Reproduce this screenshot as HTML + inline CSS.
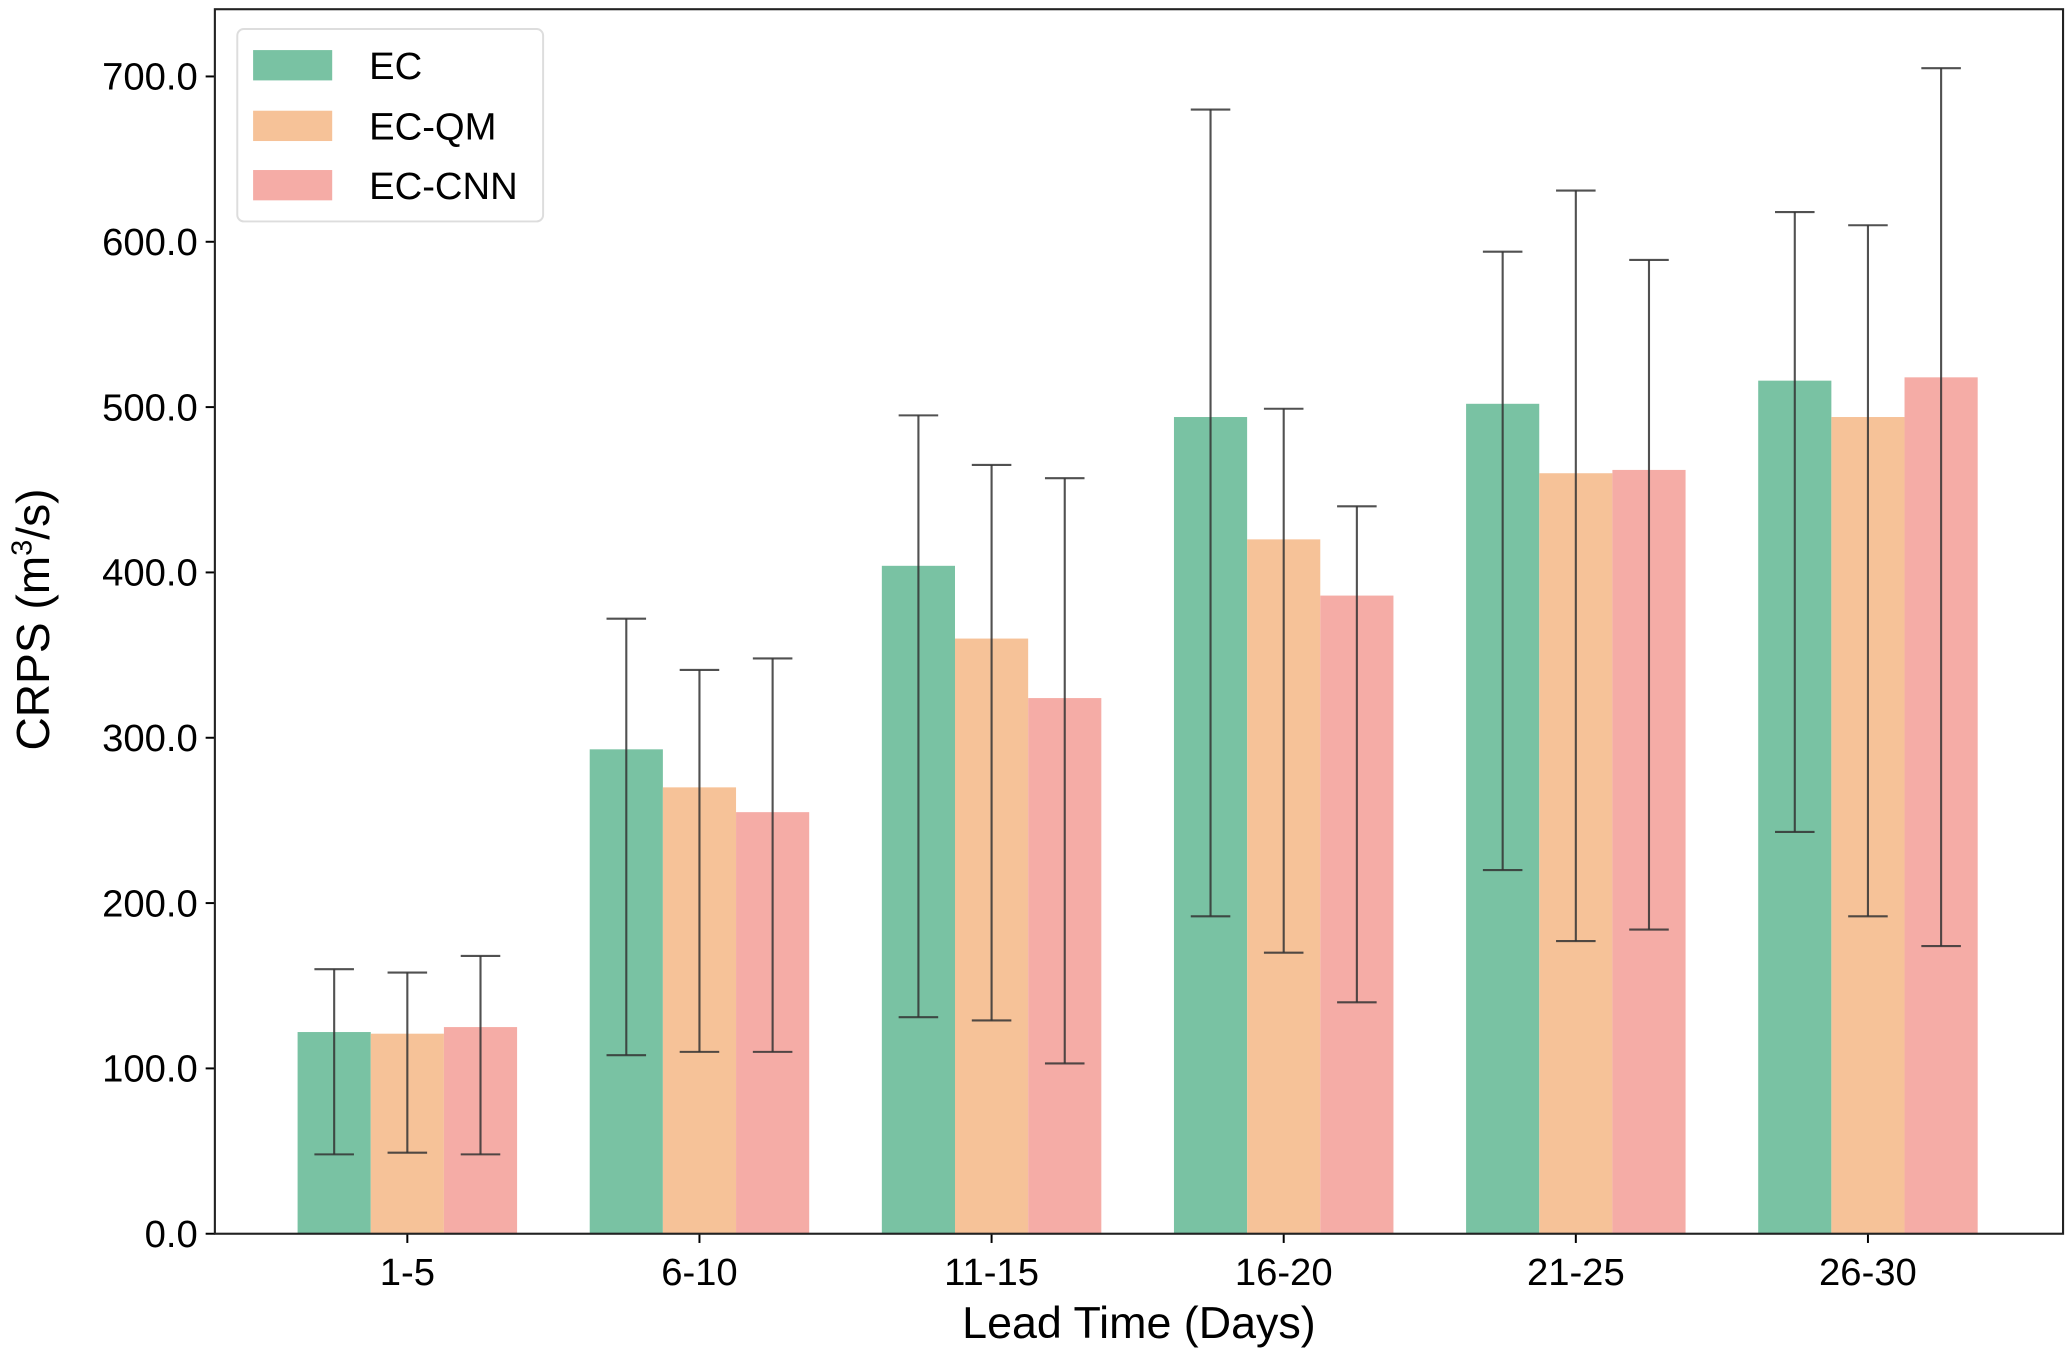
<!DOCTYPE html>
<html><head><meta charset="utf-8"><style>
html,body{margin:0;padding:0;background:#fff;}
svg{display:block;font-family:"Liberation Sans","DejaVu Sans",sans-serif;}
</style></head><body>
<svg id="chart" width="2067" height="1355" viewBox="0 0 1568 1028" preserveAspectRatio="none" xmlns="http://www.w3.org/2000/svg">
<g id="bars"></g>
<g id="errs"></g>
<g id="axes"></g>
<g id="legend">
  <rect x="180" y="22" width="232" height="146" rx="5" fill="#fff" stroke="#ddd" stroke-width="1.5"/>
  <rect x="192" y="38" width="60" height="23" fill="#79c2a3"/>
  <text x="280" y="60" font-size="29">EC</text>
  <rect x="192" y="84" width="60" height="23" fill="#f6c298"/>
  <text x="280" y="106" font-size="29">EC-QM</text>
  <rect x="192" y="129" width="60" height="23" fill="#f5aca6"/>
  <text x="280" y="151" font-size="29">EC-CNN</text>
</g>
<text x="864" y="1015" font-size="34" text-anchor="middle">Lead Time (Days)</text>
<text transform="translate(37,470) rotate(-90)" font-size="35" text-anchor="middle">CRPS (m<tspan font-size="22" dy="-13">3</tspan><tspan dy="13">/s)</tspan></text>
</svg>
<script>
const categories = ["1-5","6-10","11-15","16-20","21-25","26-30"];
const seriesNames = ["EC","EC-QM","EC-CNN"];
const ecValues = [122,293,404,494,502,516];
const qmValues = [121,270,360,420,460,494];
const cnnValues = [125,255,324,386,462,518];
const ecLow = [48,108,131,192,220,243];
const ecHigh = [160,372,495,680,594,618];
const qmLow = [49,110,129,170,177,192];
const qmHigh = [158,341,465,499,631,610];
const cnnLow = [48,110,103,140,184,174];
const cnnHigh = [168,348,457,440,589,705];
const yTicks = [0,100,200,300,400,500,600,700];

const NS="http://www.w3.org/2000/svg";
const L=163,R=1565,T=7,B=936;
const x0=309, step=221.6, bw=55.5;
function yScale(v){return B-(v/700)*(B-58);}
function xCenter(i){return x0+i*step;}
const colors=["#79c2a3","#f6c298","#f5aca6"];
const vals=[ecValues,qmValues,cnnValues], lows=[ecLow,qmLow,cnnLow], highs=[ecHigh,qmHigh,cnnHigh];
function mk(tag,attrs,parent){const e=document.createElementNS(NS,tag);for(const k in attrs)e.setAttribute(k,attrs[k]);parent.appendChild(e);return e;}
const gb=document.getElementById('bars'), ge=document.getElementById('errs'), ga=document.getElementById('axes');
categories.forEach((c,i)=>{
  for(let s=0;s<3;s++){
    const cx=xCenter(i)+(s-1)*bw;
    const v=vals[s][i];
    const r=mk('rect',{x:cx-bw/2,y:yScale(v),width:bw,height:B-yScale(v),fill:colors[s]},gb);
    
    
    const g=mk('g',{stroke:'#333','stroke-opacity':'0.85','stroke-width':'1.6'},ge);
    
    
    const lo=yScale(lows[s][i]), hi=yScale(highs[s][i]);
    mk('line',{x1:cx,x2:cx,y1:lo,y2:hi},g);
    mk('line',{x1:cx-15,x2:cx+15,y1:lo,y2:lo},g);
    mk('line',{x1:cx-15,x2:cx+15,y1:hi,y2:hi},g);
  }
  const t=mk('line',{x1:xCenter(i),x2:xCenter(i),y1:B,y2:B+7,stroke:'#000','stroke-width':1.5},ga);
  
  
  const tl=mk('text',{x:xCenter(i),y:975,'font-size':29,'text-anchor':'middle'},ga);
  tl.textContent=c;
  
  
});
yTicks.forEach(v=>{
  const y=yScale(v);
  const t=mk('line',{x1:L-7,x2:L,y1:y,y2:y,stroke:'#000','stroke-width':1.5},ga);
  
  
  const tl=mk('text',{x:L-13,y:y+10,'font-size':29,'text-anchor':'end'},ga);
  tl.textContent=v.toFixed(1);
  
  
});
const sp=mk('rect',{x:L,y:T,width:R-L,height:B-T,fill:'none',stroke:'#222','stroke-width':1.6},ga);


</script>
</body></html>
